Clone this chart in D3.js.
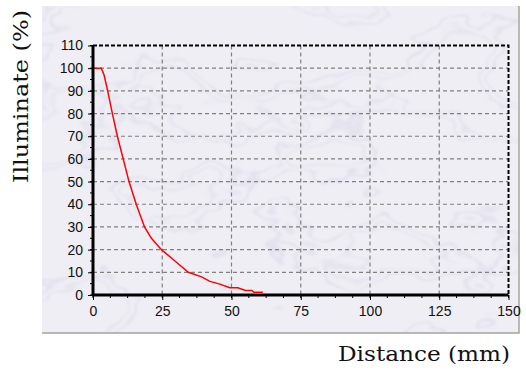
<!DOCTYPE html>
<html><head><meta charset="utf-8">
<script src="https://cdn.jsdelivr.net/npm/d3@7"></script>
<style>html,body{margin:0;padding:0;background:#fff;}svg{display:block;}</style>
</head><body>
<script>
// Data
const distance = [0, 3, 4, 5.3, 7, 8.8, 10.9, 13, 15.6, 18.6, 21.1, 24.7, 29.6, 34.4, 39.2, 42.2, 45.8, 49.4, 52.3, 55, 57.4, 58, 61.3];
const illuminate = [100, 100, 97, 90, 80, 70, 60, 50, 40, 30, 25, 20, 15, 10, 8, 6, 4.8, 3.2, 3.2, 2, 2, 1.2, 1.2];
const xTicks = [0, 25, 50, 75, 100, 125, 150];
const yTicks = [0, 10, 20, 30, 40, 50, 60, 70, 80, 90, 100, 110];
const xTitle = "Distance (mm)";
const yTitle = "Illuminate (%)";

const W = 526, H = 382;
const svg = d3.select("body").append("svg").attr("width", W).attr("height", H);

// marble-like panel
const defs = svg.append("defs");
const f = defs.append("filter").attr("id", "marble").attr("x", 0).attr("y", 0).attr("width", 1).attr("height", 1);
f.append("feTurbulence").attr("type", "fractalNoise").attr("baseFrequency", "0.008 0.014").attr("numOctaves", 4).attr("seed", 11).attr("result", "n");
f.append("feColorMatrix").attr("in", "n").attr("type", "matrix")
  .attr("values", "0 0 0 0 0.5  0 0 0 0 0.5  0 0 0 0 0.66  5 -5 0 0 -0.1").attr("result", "c");
f.append("feComponentTransfer").attr("in", "c").attr("result", "v").append("feFuncA").attr("type", "table")
  .attr("tableValues", "0 0.05 0.28 0.05 0 0 0.05 0.22 0.05 0 0");
f.append("feGaussianBlur").attr("in", "v").attr("stdDeviation", 0.8);

const panel = {x: 42, y: 6, w: 477, h: 327};
svg.append("rect").attr("x", panel.x).attr("y", panel.y).attr("width", panel.w).attr("height", panel.h).attr("fill", "#efeef5");
svg.append("rect").attr("x", panel.x).attr("y", panel.y).attr("width", panel.w).attr("height", panel.h).attr("fill", "#fff").attr("filter", "url(#marble)");
svg.append("path").attr("d", `M${panel.x + panel.w},${panel.y} V${panel.y + panel.h} H${panel.x}`)
  .attr("fill", "none").attr("stroke", "#a8a49c").attr("stroke-width", 1.5);

const x = d3.scaleLinear().domain([0, 150]).range([93, 508.5]);
const y = d3.scaleLinear().domain([0, 110]).range([295, 45.5]);

// grid
const g = svg.append("g");
g.selectAll(".gx").data(xTicks.filter(d => d > 0 && d < 150)).join("line")
  .attr("x1", d => x(d)).attr("x2", d => x(d)).attr("y1", y(110)).attr("y2", y(0))
  .attr("stroke", "#808080").attr("stroke-width", 1.2).attr("stroke-dasharray", "4,3");
g.selectAll(".gy").data(yTicks.filter(d => d > 0 && d < 110)).join("line")
  .attr("x1", x(0)).attr("x2", x(150)).attr("y1", d => y(d)).attr("y2", d => y(d))
  .attr("stroke", "#808080").attr("stroke-width", 1.2).attr("stroke-dasharray", "4,3");

// top and right dashed borders
svg.append("path").attr("d", `M${x(0)},${y(110)} H${x(150)} V${y(0)}`)
  .attr("fill", "none").attr("stroke", "#000").attr("stroke-width", 2).attr("stroke-dasharray", "4,2");

// curve
const line = d3.line().x((d, i) => x(distance[i])).y(d => y(d));
svg.append("path").datum(illuminate).attr("d", line).attr("fill", "none").attr("stroke", "#ff0000").attr("stroke-width", 1.5);

// axes
const minorX = d3.range(0, 150.01, 6.25);
const minorY = d3.range(0, 110.01, 5);
const xAxis = svg.append("g").attr("transform", `translate(0,${y(0)})`);
xAxis.selectAll(".mx").data(minorX).join("line").attr("x1", d => x(d)).attr("x2", d => x(d)).attr("y1", 0).attr("y2", 3).attr("stroke", "#000").attr("stroke-width", 1);
xAxis.call(d3.axisBottom(x).tickValues(xTicks).tickSize(5).tickPadding(6).tickFormat(d3.format("d")))
  .call(a => a.select(".domain").remove())
  .call(a => a.selectAll("text").attr("font-family", "Liberation Sans, Arial, sans-serif").attr("font-size", 14).attr("fill", "#111"));
xAxis.append("line").attr("x1", x(0) - 1).attr("x2", x(150)).attr("y1", 0).attr("y2", 0).attr("stroke", "#000").attr("stroke-width", 3);

const yAxis = svg.append("g").attr("transform", `translate(${x(0)},0)`);
yAxis.selectAll(".my").data(minorY).join("line").attr("x1", 0).attr("x2", -3).attr("y1", d => y(d)).attr("y2", d => y(d)).attr("stroke", "#000").attr("stroke-width", 1);
yAxis.call(d3.axisLeft(y).tickValues(yTicks).tickSize(5).tickPadding(5).tickFormat(d3.format("d")))
  .call(a => a.select(".domain").remove())
  .call(a => a.selectAll("text").attr("font-family", "Liberation Sans, Arial, sans-serif").attr("font-size", 14).attr("fill", "#111"));
yAxis.append("line").attr("x1", 0).attr("x2", 0).attr("y1", y(110)).attr("y2", y(0) + 1).attr("stroke", "#000").attr("stroke-width", 3);

// titles
svg.append("text").attr("x", 338).attr("y", 361).text(xTitle)
  .attr("font-family", "DejaVu Serif, serif").attr("font-size", 21).attr("fill", "#111")
  .attr("textLength", 172).attr("lengthAdjust", "spacingAndGlyphs");
svg.append("text").attr("transform", "translate(28,183) rotate(-90)").text(yTitle)
  .attr("font-family", "DejaVu Serif, serif").attr("font-size", 21).attr("fill", "#111")
  .attr("textLength", 173).attr("lengthAdjust", "spacingAndGlyphs");
</script>
</body></html>
